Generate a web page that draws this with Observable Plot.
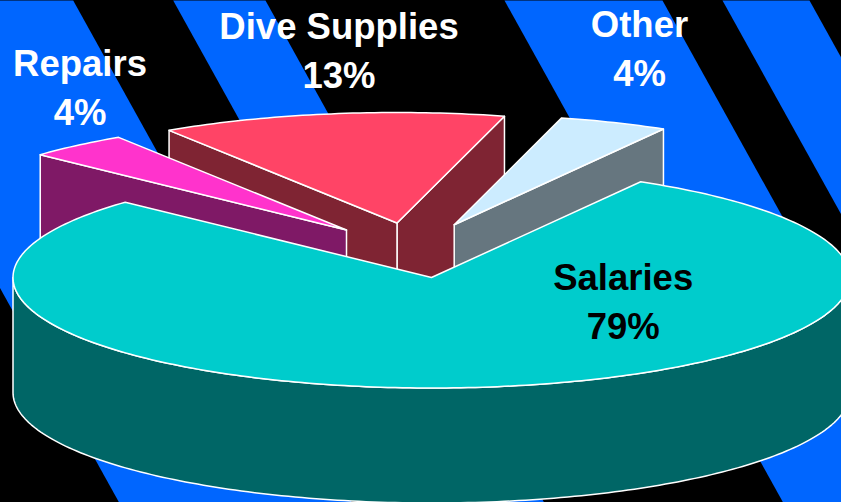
<!DOCTYPE html>
<html>
<head>
<meta charset="utf-8">
<script src="https://cdn.jsdelivr.net/npm/d3@7"></script>
<script src="https://cdn.jsdelivr.net/npm/@observablehq/plot@0.6"></script>
<style>html,body{margin:0;padding:0;background:#000;overflow:hidden}svg{display:block}</style>
</head>
<body>
<div id="chart"></div>
<script>
// Data, in pie order (counter-clockwise from the start angle)
const categories = ["Other", "Dive Supplies", "Repairs", "Salaries"];
const shares = [4.2, 13.3, 3.9, 78.6];
const shareLabels = ["4%", "13%", "4%", "79%"];

// Layout of the 3D pie, in the plot's own 841x502 coordinate space
const W = 841, H = 502;
const pie = {cx: 431, cy: 277, rx: 418.5, ry: 110.5, depth: 115, start: 60};
const looks = {
  "Other":         {top: "#ccecff", wall: "#66767f", dx: 22.7,  dy: -52.8, lx: 639,   ly: 36.5, ink: "white", faces: ["start"]},
  "Dive Supplies": {top: "#ff4466", wall: "#7f2433", dx: -34.5, dy: -54.5, lx: 338.5, ly: 38.5, ink: "white", faces: ["start", "end"]},
  "Repairs":       {top: "#ff33cc", wall: "#7f1966", dx: -85,   dy: -47.5, lx: 79.5,  ly: 75,   ink: "white", faces: ["end"]},
  "Salaries":      {top: "#00cccc", wall: "#006666", dx: 0,     dy: 0,     lx: 622.7, ly: 289.5, ink: "black", faces: []}
};
// Background stripes: x-range at the top edge of the picture, and slant
const stripes = [[-160, 72.7], [172.7, 265], [504, 662], [722, 809]];
const slant = 0.555;

const rad = d => d * Math.PI / 180;
function arc(a0, a1, dx, dy) {
  const n = Math.max(2, Math.ceil(Math.abs(a1 - a0)));
  return d3.range(n + 1).map(i => {
    const a = rad(a0 + (a1 - a0) * i / n);
    return {x: pie.cx + dx + pie.rx * Math.cos(a), y: pie.cy + dy - pie.ry * Math.sin(a)};
  });
}
const close = p => [...p, p[0]];
const down = p => ({x: p.x, y: p.y + pie.depth});

// angular extents come from the shares
let acc = pie.start;
const slices = categories.map((name, i) => {
  const a0 = acc; acc += shares[i] * 3.6;
  return {name, a0, a1: acc, label: shareLabels[i], ...looks[name]};
});

function sliceParts(s) {
  const apex = {x: pie.cx + s.dx, y: pie.cy + s.dy};
  const rim = arc(s.a0, s.a1, s.dx, s.dy);
  const first = rim[0], last = rim[rim.length - 1];
  const walls = s.faces.map(f => {
    const p = f === "start" ? first : last;
    return close([apex, p, down(p), down(apex)]);
  });
  // the curved outer wall, only where it faces the viewer (180..360 deg)
  if (s.a1 > 180) {
    const front = arc(Math.max(180, s.a0), Math.min(360, s.a1), s.dx, s.dy);
    walls.push(close([...front, ...front.slice().reverse().map(down)]));
  }
  return {walls, top: close([apex, ...rim])};
}

const drawOrder = ["Dive Supplies", "Other", "Repairs", "Salaries"];
const pieMarks = drawOrder.flatMap(name => {
  const s = slices.find(d => d.name === name);
  const {walls, top} = sliceParts(s);
  return [
    ...walls.map(w => Plot.line(w, {x: "x", y: "y", fill: s.wall, stroke: "white", strokeWidth: 1.5, strokeLinejoin: "round"})),
    Plot.line(top, {x: "x", y: "y", fill: s.top, stroke: "white", strokeWidth: 1.5, strokeLinejoin: "round"})
  ];
});

const stripeMarks = stripes.map(([a, b]) =>
  Plot.line(close([
    {x: a, y: 0}, {x: b, y: 0},
    {x: b + slant * H, y: H}, {x: a + slant * H, y: H}
  ]), {x: "x", y: "y", fill: "#0066ff", stroke: "none"})
);

const textBase = {x: "lx", y: "ly", text: "t", fill: "ink", fontSize: 36.5, fontWeight: "bold",
  fontFamily: "'Liberation Sans', Arial, sans-serif", textAnchor: "middle", lineAnchor: "bottom"};
const nameRows = slices.map(s => ({t: s.name, lx: s.lx, ly: s.ly, ink: s.ink}));
const pctRows = slices.map(s => ({t: s.label, lx: s.lx, ly: s.ly + 49, ink: s.ink}));

const chart = Plot.plot({
  width: W, height: H,
  margin: 0,
  style: {background: "black"},
  x: {axis: null, domain: [0, W], range: [0, W]},
  y: {axis: null, domain: [0, H], range: [0, H]},
  color: {type: "identity"},
  marks: [
    ...stripeMarks,
    ...pieMarks,
    Plot.text(nameRows, textBase),
    Plot.text(pctRows, textBase)
  ]
});
document.getElementById("chart").append(chart);
</script>
</body>
</html>
